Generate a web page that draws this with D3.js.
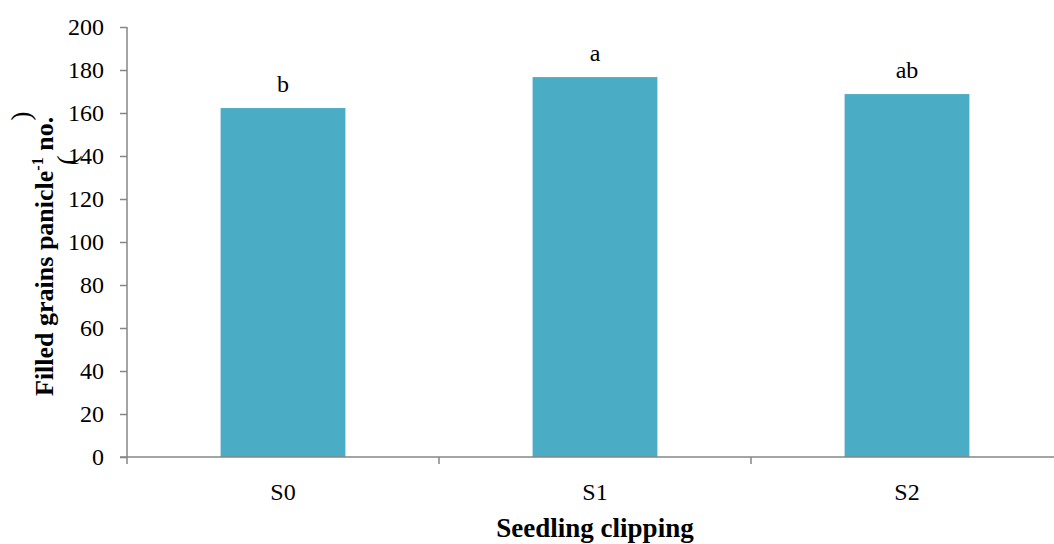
<!DOCTYPE html>
<html>
<head>
<meta charset="utf-8">
<script src="https://cdn.jsdelivr.net/npm/d3@7"></script>
<style>
  html, body { margin: 0; padding: 0; background: #fff; }
  svg { display: block; }
  svg text { font-family: "Liberation Serif", "Times New Roman", serif; fill: #000; }
</style>
</head>
<body>
<svg id="chart" width="1054" height="544"></svg>
<script>
// Filled grains per panicle under seedling clipping treatments
const categories = ["S0", "S1", "S2"];
const values = [162.3, 176.7, 168.8];
const letters = ["b", "a", "ab"];
const yTicks = [0, 20, 40, 60, 80, 100, 120, 140, 160, 180, 200];

const svg = d3.select("#chart");
const plotLeft = 127, plotRight = 1063, plotTop = 27, plotBottom = 457;
const axisColor = "#868686";
const barColor = "#4BACC6";
const serif = "'Liberation Serif', 'Times New Roman', serif";

const x = d3.scaleBand().domain(categories).range([plotLeft, plotRight]).paddingInner(0.6).paddingOuter(0.3);
const xCat = d3.scaleBand().domain(categories).range([plotLeft, plotRight]);
const y = d3.scaleLinear().domain([0, 200]).range([plotBottom, plotTop]);

// bars
svg.append("g").selectAll("rect")
  .data(categories)
  .join("rect")
  .attr("x", d => x(d))
  .attr("width", x.bandwidth())
  .attr("y", (d, i) => y(values[i]))
  .attr("height", (d, i) => y(0) - y(values[i]))
  .attr("fill", barColor);

// significance letters
svg.append("g").selectAll("text")
  .data(categories)
  .join("text")
  .attr("x", d => x(d) + x.bandwidth() / 2)
  .attr("y", (d, i) => y(values[i]) - 16)
  .attr("text-anchor", "middle")
  .style("font-family", serif)
  .style("font-size", "24px")
  .text((d, i) => letters[i]);

// y axis
const yAxis = svg.append("g").attr("transform", `translate(${plotLeft},0)`)
  .call(d3.axisLeft(y).tickValues(yTicks).tickSize(7).tickPadding(16).tickFormat(d3.format("d")));
yAxis.attr("font-family", null);
yAxis.select(".domain").attr("stroke", axisColor).attr("stroke-width", 1.5)
  .attr("d", `M0,${plotTop}V${plotBottom}`);
yAxis.selectAll(".tick line").attr("stroke", axisColor).attr("stroke-width", 1.5);
yAxis.selectAll(".tick text")
  .style("font-family", serif)
  .style("font-size", "24px");

// x axis: category boundaries as tick marks
const xAxis = svg.append("g").attr("transform", `translate(0,${plotBottom})`);
xAxis.append("line").attr("x1", plotLeft - 7).attr("x2", plotRight).attr("y1", 0).attr("y2", 0)
  .attr("stroke", axisColor).attr("stroke-width", 1.5);
const bounds = categories.map(d => xCat(d)).concat([plotRight]);
xAxis.selectAll("line.tk").data(bounds).join("line").attr("class", "tk")
  .attr("x1", d => d).attr("x2", d => d).attr("y1", 0).attr("y2", 7)
  .attr("stroke", axisColor).attr("stroke-width", 1.5);
xAxis.selectAll("text").data(categories).join("text")
  .attr("x", d => xCat(d) + xCat.bandwidth() / 2)
  .attr("y", 43)
  .attr("text-anchor", "middle")
  .style("font-family", serif)
  .style("font-size", "24px")
  .text(d => d);

// axis titles
svg.append("text")
  .attr("x", xCat("S1") + xCat.bandwidth() / 2)
  .attr("y", 537)
  .attr("text-anchor", "middle")
  .style("font-family", serif)
  .style("font-size", "27px")
  .style("font-weight", "bold")
  .text("Seedling clipping");

const yTitle = svg.append("text")
  .attr("transform", "translate(53,396) rotate(-90)")
  .style("font-family", serif)
  .style("font-size", "26px")
  .style("font-weight", "bold");
yTitle.append("tspan").text("Filled grains panicle");
yTitle.append("tspan").style("font-size", "16px").attr("dy", -10).text("-1");
yTitle.append("tspan").attr("dy", 10).text(" no.");

svg.append("text")
  .attr("transform", "translate(30,116) rotate(-90)")
  .attr("text-anchor", "middle")
  .style("font-family", serif)
  .style("font-size", "28px")
  .text(")");
svg.append("text")
  .attr("transform", "translate(76,160) rotate(-90)")
  .attr("text-anchor", "middle")
  .style("font-family", serif)
  .style("font-size", "28px")
  .text("(");
</script>
</body>
</html>
